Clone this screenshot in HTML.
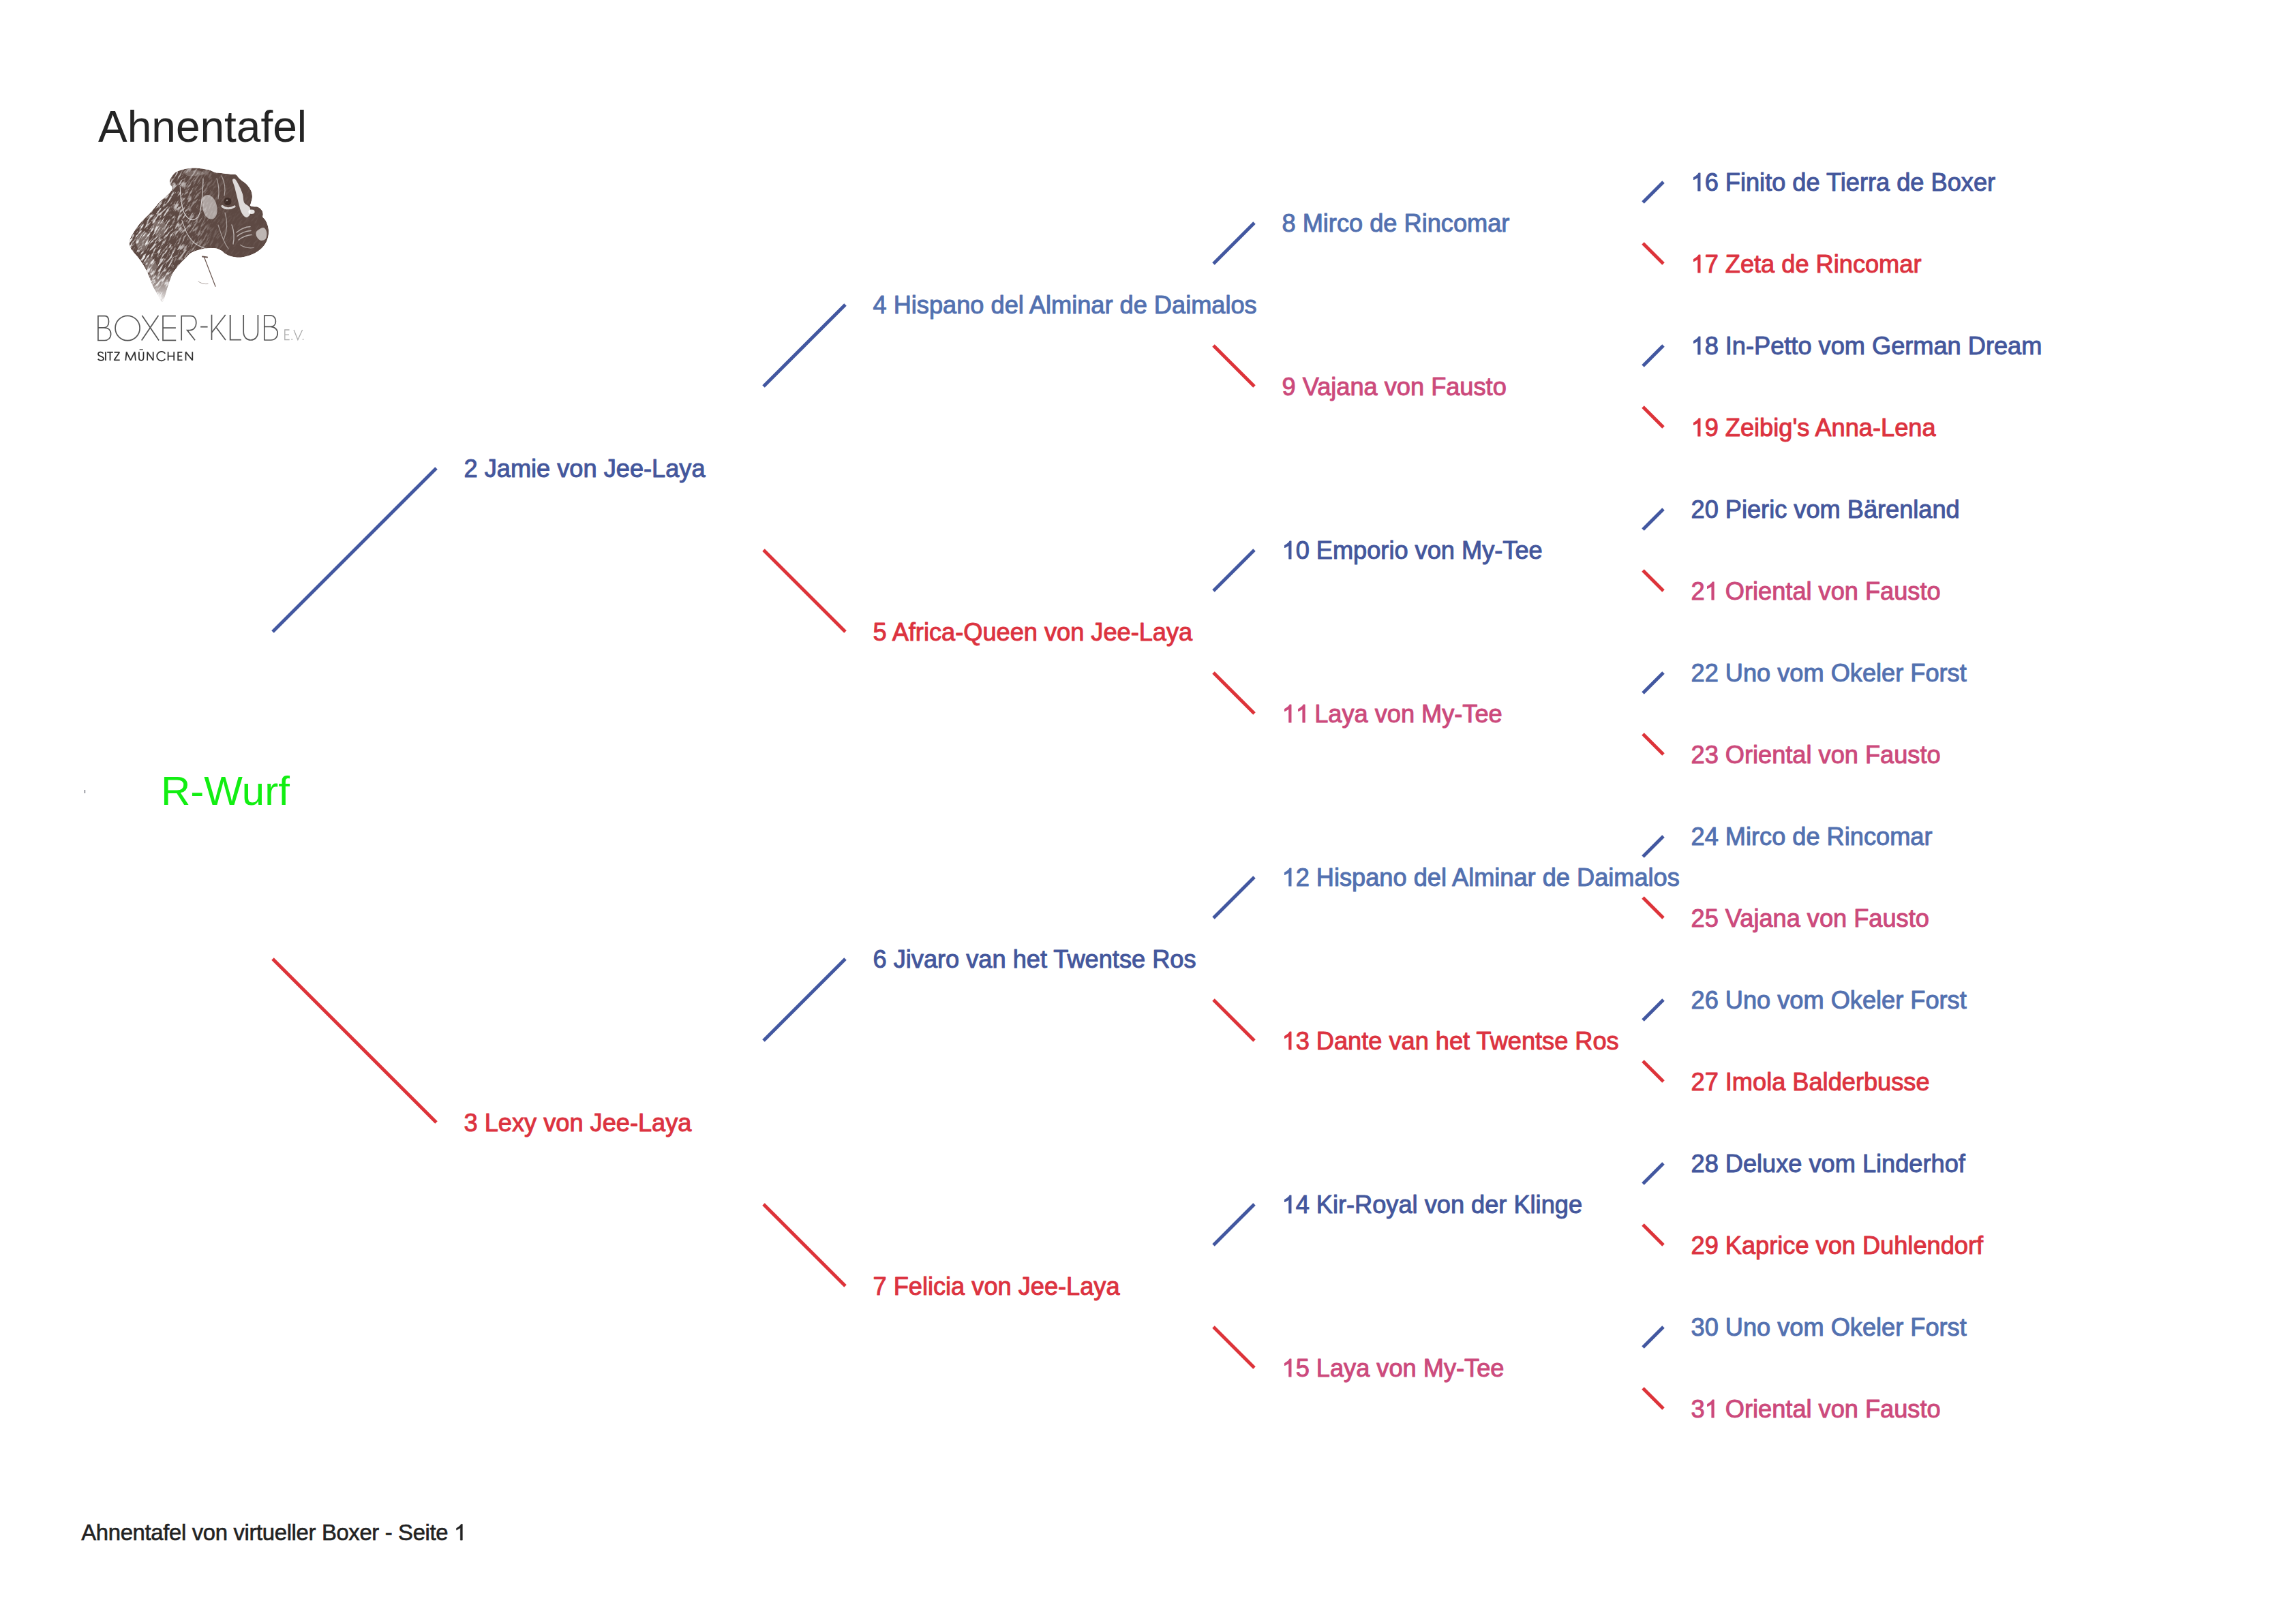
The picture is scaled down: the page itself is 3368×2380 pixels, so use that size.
<!DOCTYPE html>
<html><head><meta charset="utf-8"><style>
html,body{margin:0;padding:0;background:#fff;}
body{width:3368px;height:2380px;overflow:hidden;}
svg{display:block;}
text{font-family:"Liberation Sans",sans-serif;}
.n{stroke-width:1.0px;stroke-linejoin:round;}
.h{fill:none;stroke:none;}
</style></head><body>
<svg width="3368" height="2380" viewBox="0 0 3368 2380">
<defs><path id="one" d="M583 0V1147Q518 1085 412.5 1023Q307 961 223 930V1104Q374 1175 487 1276Q600 1377 647 1472H763V0Z" stroke-linejoin="round"/></defs>
<rect width="3368" height="2380" fill="#fff"/>
<text x="144" y="208" font-size="64" fill="#242424">Ahnentafel</text>
<g font-size="36.2" stroke-width="5.0" stroke-linecap="butt">
<text class="n" x="680.5" y="700" fill="#44579c" stroke="#44579c">2 Jamie von Jee-Laya</text>
<line x1="400.0" y1="927.0" x2="640" y2="687" stroke="#4257a0"/>
<text class="n" x="680.5" y="1660" fill="#dc3340" stroke="#dc3340">3 Lexy von Jee-Laya</text>
<line x1="400.0" y1="1407.0" x2="640" y2="1647" stroke="#dd3339"/>
<text class="n" x="1280.5" y="460" fill="#5371b0" stroke="#5371b0">4 Hispano del Alminar de Daimalos</text>
<line x1="1120.0" y1="567.0" x2="1240" y2="447" stroke="#4257a0"/>
<text class="n" x="1280.5" y="940" fill="#dc3340" stroke="#dc3340">5 Africa-Queen von Jee-Laya</text>
<line x1="1120.0" y1="807.0" x2="1240" y2="927" stroke="#dd3339"/>
<text class="n" x="1280.5" y="1420" fill="#44579c" stroke="#44579c">6 Jivaro van het Twentse Ros</text>
<line x1="1120.0" y1="1527.0" x2="1240" y2="1407" stroke="#4257a0"/>
<text class="n" x="1280.5" y="1900" fill="#dc3340" stroke="#dc3340">7 Felicia von Jee-Laya</text>
<line x1="1120.0" y1="1767.0" x2="1240" y2="1887" stroke="#dd3339"/>
<text class="n" x="1880.5" y="340" fill="#5371b0" stroke="#5371b0">8 Mirco de Rincomar</text>
<line x1="1780.0" y1="387.0" x2="1840" y2="327" stroke="#4257a0"/>
<text class="n" x="1880.5" y="580" fill="#cc4a7c" stroke="#cc4a7c">9 Vajana von Fausto</text>
<line x1="1780.0" y1="507.0" x2="1840" y2="567" stroke="#dd3339"/>
<text class="n" x="1880.5" y="820" fill="#44579c" stroke="#44579c"><tspan class="h">1</tspan>0 Emporio von My-Tee</text>
<use href="#one" fill="#44579c" stroke="#44579c" stroke-width="56.6" transform="translate(1880.50 820) scale(0.017676 -0.017676)"/>
<line x1="1780.0" y1="867.0" x2="1840" y2="807" stroke="#4257a0"/>
<text class="n" x="1880.5" y="1060" fill="#cc4a7c" stroke="#cc4a7c"><tspan class="h">1</tspan><tspan class="h">1</tspan> Laya von My-Tee</text>
<use href="#one" fill="#cc4a7c" stroke="#cc4a7c" stroke-width="56.6" transform="translate(1880.50 1060) scale(0.017676 -0.017676)"/>
<use href="#one" fill="#cc4a7c" stroke="#cc4a7c" stroke-width="56.6" transform="translate(1900.63 1060) scale(0.017676 -0.017676)"/>
<line x1="1780.0" y1="987.0" x2="1840" y2="1047" stroke="#dd3339"/>
<text class="n" x="1880.5" y="1300" fill="#5371b0" stroke="#5371b0"><tspan class="h">1</tspan>2 Hispano del Alminar de Daimalos</text>
<use href="#one" fill="#5371b0" stroke="#5371b0" stroke-width="56.6" transform="translate(1880.50 1300) scale(0.017676 -0.017676)"/>
<line x1="1780.0" y1="1347.0" x2="1840" y2="1287" stroke="#4257a0"/>
<text class="n" x="1880.5" y="1540" fill="#dc3340" stroke="#dc3340"><tspan class="h">1</tspan>3 Dante van het Twentse Ros</text>
<use href="#one" fill="#dc3340" stroke="#dc3340" stroke-width="56.6" transform="translate(1880.50 1540) scale(0.017676 -0.017676)"/>
<line x1="1780.0" y1="1467.0" x2="1840" y2="1527" stroke="#dd3339"/>
<text class="n" x="1880.5" y="1780" fill="#44579c" stroke="#44579c"><tspan class="h">1</tspan>4 Kir-Royal von der Klinge</text>
<use href="#one" fill="#44579c" stroke="#44579c" stroke-width="56.6" transform="translate(1880.50 1780) scale(0.017676 -0.017676)"/>
<line x1="1780.0" y1="1827.0" x2="1840" y2="1767" stroke="#4257a0"/>
<text class="n" x="1880.5" y="2020" fill="#cc4a7c" stroke="#cc4a7c"><tspan class="h">1</tspan>5 Laya von My-Tee</text>
<use href="#one" fill="#cc4a7c" stroke="#cc4a7c" stroke-width="56.6" transform="translate(1880.50 2020) scale(0.017676 -0.017676)"/>
<line x1="1780.0" y1="1947.0" x2="1840" y2="2007" stroke="#dd3339"/>
<text class="n" x="2480.5" y="280" fill="#44579c" stroke="#44579c"><tspan class="h">1</tspan>6 Finito de Tierra de Boxer</text>
<use href="#one" fill="#44579c" stroke="#44579c" stroke-width="56.6" transform="translate(2480.50 280) scale(0.017676 -0.017676)"/>
<line x1="2410.0" y1="297.0" x2="2440" y2="267" stroke="#4257a0"/>
<text class="n" x="2480.5" y="400" fill="#dc3340" stroke="#dc3340"><tspan class="h">1</tspan>7 Zeta de Rincomar</text>
<use href="#one" fill="#dc3340" stroke="#dc3340" stroke-width="56.6" transform="translate(2480.50 400) scale(0.017676 -0.017676)"/>
<line x1="2410.0" y1="357.0" x2="2440" y2="387" stroke="#dd3339"/>
<text class="n" x="2480.5" y="520" fill="#44579c" stroke="#44579c"><tspan class="h">1</tspan>8 In-Petto vom German Dream</text>
<use href="#one" fill="#44579c" stroke="#44579c" stroke-width="56.6" transform="translate(2480.50 520) scale(0.017676 -0.017676)"/>
<line x1="2410.0" y1="537.0" x2="2440" y2="507" stroke="#4257a0"/>
<text class="n" x="2480.5" y="640" fill="#dc3340" stroke="#dc3340"><tspan class="h">1</tspan>9 Zeibig's Anna-Lena</text>
<use href="#one" fill="#dc3340" stroke="#dc3340" stroke-width="56.6" transform="translate(2480.50 640) scale(0.017676 -0.017676)"/>
<line x1="2410.0" y1="597.0" x2="2440" y2="627" stroke="#dd3339"/>
<text class="n" x="2480.5" y="760" fill="#44579c" stroke="#44579c">20 Pieric vom B&#228;renland</text>
<line x1="2410.0" y1="777.0" x2="2440" y2="747" stroke="#4257a0"/>
<text class="n" x="2480.5" y="880" fill="#cc4a7c" stroke="#cc4a7c">2<tspan class="h">1</tspan> Oriental von Fausto</text>
<use href="#one" fill="#cc4a7c" stroke="#cc4a7c" stroke-width="56.6" transform="translate(2500.63 880) scale(0.017676 -0.017676)"/>
<line x1="2410.0" y1="837.0" x2="2440" y2="867" stroke="#dd3339"/>
<text class="n" x="2480.5" y="1000" fill="#5371b0" stroke="#5371b0">22 Uno vom Okeler Forst</text>
<line x1="2410.0" y1="1017.0" x2="2440" y2="987" stroke="#4257a0"/>
<text class="n" x="2480.5" y="1120" fill="#cc4a7c" stroke="#cc4a7c">23 Oriental von Fausto</text>
<line x1="2410.0" y1="1077.0" x2="2440" y2="1107" stroke="#dd3339"/>
<text class="n" x="2480.5" y="1240" fill="#5371b0" stroke="#5371b0">24 Mirco de Rincomar</text>
<line x1="2410.0" y1="1257.0" x2="2440" y2="1227" stroke="#4257a0"/>
<text class="n" x="2480.5" y="1360" fill="#cc4a7c" stroke="#cc4a7c">25 Vajana von Fausto</text>
<line x1="2410.0" y1="1317.0" x2="2440" y2="1347" stroke="#dd3339"/>
<text class="n" x="2480.5" y="1480" fill="#5371b0" stroke="#5371b0">26 Uno vom Okeler Forst</text>
<line x1="2410.0" y1="1497.0" x2="2440" y2="1467" stroke="#4257a0"/>
<text class="n" x="2480.5" y="1600" fill="#dc3340" stroke="#dc3340">27 Imola Balderbusse</text>
<line x1="2410.0" y1="1557.0" x2="2440" y2="1587" stroke="#dd3339"/>
<text class="n" x="2480.5" y="1720" fill="#44579c" stroke="#44579c">28 Deluxe vom Linderhof</text>
<line x1="2410.0" y1="1737.0" x2="2440" y2="1707" stroke="#4257a0"/>
<text class="n" x="2480.5" y="1840" fill="#dc3340" stroke="#dc3340">29 Kaprice von Duhlendorf</text>
<line x1="2410.0" y1="1797.0" x2="2440" y2="1827" stroke="#dd3339"/>
<text class="n" x="2480.5" y="1960" fill="#5371b0" stroke="#5371b0">30 Uno vom Okeler Forst</text>
<line x1="2410.0" y1="1977.0" x2="2440" y2="1947" stroke="#4257a0"/>
<text class="n" x="2480.5" y="2080" fill="#cc4a7c" stroke="#cc4a7c">3<tspan class="h">1</tspan> Oriental von Fausto</text>
<use href="#one" fill="#cc4a7c" stroke="#cc4a7c" stroke-width="56.6" transform="translate(2500.63 2080) scale(0.017676 -0.017676)"/>
<line x1="2410.0" y1="2037.0" x2="2440" y2="2067" stroke="#dd3339"/>
</g>
<text x="236" y="1181" font-size="60" fill="#12ee12">R-Wurf</text>
<rect x="124" y="1159" width="1.1" height="5" fill="#4a4c5a"/>
<text x="119.3" y="2260" font-size="32.8" fill="#222" stroke="#222" stroke-width="0.6" textLength="565.0">Ahnentafel von virtueller Boxer - Seite <tspan class="h">1</tspan></text>
<use href="#one" fill="#222" stroke="#222" stroke-width="37.5" transform="translate(666.05 2260) scale(0.016016 -0.016016)"/>
<g id="dog">
<defs>
<clipPath id="dogclip"><path d="M190.2 352.7C191.3 348.1 195.6 341.6 198.5 337.0C201.4 332.4 204.4 328.9 207.8 325.0C211.2 321.1 215.8 317.1 218.9 313.9C222.0 310.6 223.8 308.5 226.3 305.5C228.9 302.5 231.5 298.7 234.2 296.0C236.9 293.3 239.7 291.7 242.4 289.2C245.1 286.7 248.8 283.4 250.5 281.1C252.2 278.8 252.8 277.3 252.6 275.5C252.4 273.7 250.1 272.0 249.5 270.3C248.9 268.6 248.8 267.1 249.0 265.5C249.2 263.9 249.8 262.4 251.0 260.5C252.2 258.6 253.8 255.8 256.0 254.0C258.2 252.2 261.0 251.0 264.1 249.9C267.2 248.8 270.9 247.8 274.9 247.2C278.8 246.6 282.6 246.2 287.8 246.5C293.0 246.8 301.7 248.2 306.3 249.3C310.9 250.4 312.4 252.2 315.5 253.0C318.6 253.8 320.9 253.5 324.8 253.9C328.7 254.3 335.1 255.3 338.6 255.7C342.1 256.1 343.9 255.1 346.0 256.2C348.1 257.3 348.9 259.8 351.5 262.2C354.1 264.6 359.0 267.6 361.8 270.5C364.6 273.4 366.8 276.7 368.2 279.8C369.6 282.9 370.0 286.1 370.0 289.0C370.0 291.9 368.7 295.3 368.2 297.4C367.7 299.5 366.5 300.6 367.0 301.5C367.5 302.4 369.1 302.6 371.0 303.0C372.9 303.4 376.2 302.9 378.4 303.8C380.6 304.7 382.8 306.8 384.0 308.5C385.2 310.2 385.6 312.3 385.8 314.0C386.1 315.7 384.9 317.1 385.5 318.6C386.1 320.2 388.2 321.0 389.5 323.3C390.8 325.6 392.4 329.4 393.2 332.5C394.0 335.6 394.2 338.7 394.1 341.8C394.0 344.9 393.2 348.2 392.3 351.0C391.4 353.8 390.3 355.9 388.6 358.4C386.9 360.9 384.6 363.6 382.1 365.8C379.6 368.0 377.2 369.7 373.8 371.4C370.4 373.1 365.7 374.9 361.8 376.0C357.9 377.1 354.6 377.8 350.7 377.8C346.8 377.8 342.0 376.9 338.6 376.0C335.2 375.1 332.6 373.7 330.3 372.3C328.0 370.9 327.3 369.1 324.8 367.7C322.3 366.3 319.6 364.7 315.5 364.2C311.4 363.7 305.9 363.8 300.3 364.8C294.7 365.8 286.4 368.0 281.8 370.3C277.2 372.6 275.6 375.7 272.5 378.6C269.4 381.5 266.4 384.3 263.3 387.9C260.2 391.5 256.3 396.1 254.0 400.0C251.7 403.9 250.9 406.9 249.4 411.0C247.9 415.1 246.3 420.3 244.8 424.9C243.3 429.5 241.8 435.8 240.6 438.8C239.4 441.8 238.6 443.5 237.4 443.0C236.2 442.5 235.7 439.8 233.5 436.0C231.3 432.2 226.8 425.2 224.4 420.3C222.0 415.4 220.9 411.0 218.9 406.4C216.9 401.8 215.0 397.1 212.4 392.5C209.8 387.9 206.5 383.2 203.1 378.6C199.7 374.0 194.2 369.1 192.0 364.8C189.8 360.5 189.1 357.3 190.2 352.7Z"/></clipPath>
<filter id="tex" x="-200" y="-200" width="400" height="400" filterUnits="userSpaceOnUse" primitiveUnits="userSpaceOnUse">
<feTurbulence type="fractalNoise" baseFrequency="0.09 0.4" numOctaves="3" seed="11"/>
<feColorMatrix type="matrix" values="0 0 0 0 1 0 0 0 0 1 0 0 0 0 1 5 0 0 0 -2.4"/>
</filter>
<linearGradient id="nmg" gradientUnits="userSpaceOnUse" x1="200" y1="0" x2="340" y2="0">
<stop offset="0" stop-color="#fff" stop-opacity="1"/>
<stop offset="0.45" stop-color="#fff" stop-opacity="0.7"/>
<stop offset="0.8" stop-color="#fff" stop-opacity="0.15"/>
<stop offset="1" stop-color="#fff" stop-opacity="0.05"/>
</linearGradient>
<mask id="nmask" maskUnits="userSpaceOnUse" x="170" y="230" width="240" height="230"><rect x="170" y="230" width="240" height="230" fill="url(#nmg)"/></mask>
<linearGradient id="fade" gradientUnits="userSpaceOnUse" x1="0" y1="395" x2="0" y2="446">
<stop offset="0" stop-color="#fff" stop-opacity="0"/>
<stop offset="1" stop-color="#fff" stop-opacity="0.92"/>
</linearGradient>
</defs>
<g clip-path="url(#dogclip)">
<path fill="#5d4943" d="M190.2 352.7C191.3 348.1 195.6 341.6 198.5 337.0C201.4 332.4 204.4 328.9 207.8 325.0C211.2 321.1 215.8 317.1 218.9 313.9C222.0 310.6 223.8 308.5 226.3 305.5C228.9 302.5 231.5 298.7 234.2 296.0C236.9 293.3 239.7 291.7 242.4 289.2C245.1 286.7 248.8 283.4 250.5 281.1C252.2 278.8 252.8 277.3 252.6 275.5C252.4 273.7 250.1 272.0 249.5 270.3C248.9 268.6 248.8 267.1 249.0 265.5C249.2 263.9 249.8 262.4 251.0 260.5C252.2 258.6 253.8 255.8 256.0 254.0C258.2 252.2 261.0 251.0 264.1 249.9C267.2 248.8 270.9 247.8 274.9 247.2C278.8 246.6 282.6 246.2 287.8 246.5C293.0 246.8 301.7 248.2 306.3 249.3C310.9 250.4 312.4 252.2 315.5 253.0C318.6 253.8 320.9 253.5 324.8 253.9C328.7 254.3 335.1 255.3 338.6 255.7C342.1 256.1 343.9 255.1 346.0 256.2C348.1 257.3 348.9 259.8 351.5 262.2C354.1 264.6 359.0 267.6 361.8 270.5C364.6 273.4 366.8 276.7 368.2 279.8C369.6 282.9 370.0 286.1 370.0 289.0C370.0 291.9 368.7 295.3 368.2 297.4C367.7 299.5 366.5 300.6 367.0 301.5C367.5 302.4 369.1 302.6 371.0 303.0C372.9 303.4 376.2 302.9 378.4 303.8C380.6 304.7 382.8 306.8 384.0 308.5C385.2 310.2 385.6 312.3 385.8 314.0C386.1 315.7 384.9 317.1 385.5 318.6C386.1 320.2 388.2 321.0 389.5 323.3C390.8 325.6 392.4 329.4 393.2 332.5C394.0 335.6 394.2 338.7 394.1 341.8C394.0 344.9 393.2 348.2 392.3 351.0C391.4 353.8 390.3 355.9 388.6 358.4C386.9 360.9 384.6 363.6 382.1 365.8C379.6 368.0 377.2 369.7 373.8 371.4C370.4 373.1 365.7 374.9 361.8 376.0C357.9 377.1 354.6 377.8 350.7 377.8C346.8 377.8 342.0 376.9 338.6 376.0C335.2 375.1 332.6 373.7 330.3 372.3C328.0 370.9 327.3 369.1 324.8 367.7C322.3 366.3 319.6 364.7 315.5 364.2C311.4 363.7 305.9 363.8 300.3 364.8C294.7 365.8 286.4 368.0 281.8 370.3C277.2 372.6 275.6 375.7 272.5 378.6C269.4 381.5 266.4 384.3 263.3 387.9C260.2 391.5 256.3 396.1 254.0 400.0C251.7 403.9 250.9 406.9 249.4 411.0C247.9 415.1 246.3 420.3 244.8 424.9C243.3 429.5 241.8 435.8 240.6 438.8C239.4 441.8 238.6 443.5 237.4 443.0C236.2 442.5 235.7 439.8 233.5 436.0C231.3 432.2 226.8 425.2 224.4 420.3C222.0 415.4 220.9 411.0 218.9 406.4C216.9 401.8 215.0 397.1 212.4 392.5C209.8 387.9 206.5 383.2 203.1 378.6C199.7 374.0 194.2 369.1 192.0 364.8C189.8 360.5 189.1 357.3 190.2 352.7Z"/>
<g fill="#fff">
<path opacity="0.8" d="M341.0 264.0C341.2 262.2 343.3 261.5 345.0 263.0C346.7 264.5 349.2 269.3 351.0 273.0C352.8 276.7 354.8 281.0 356.0 285.0C357.2 289.0 356.7 294.2 358.0 297.0C359.3 299.8 362.5 300.5 364.0 302.0C365.5 303.5 366.5 304.0 367.0 306.0C367.5 308.0 367.8 311.8 367.0 314.0C366.2 316.2 363.7 318.7 362.0 319.0C360.3 319.3 358.5 317.7 357.0 316.0C355.5 314.3 354.2 312.0 353.0 309.0C351.8 306.0 351.0 301.8 350.0 298.0C349.0 294.2 348.0 290.0 347.0 286.0C346.0 282.0 345.0 277.7 344.0 274.0C343.0 270.3 340.8 265.8 341.0 264.0Z"/>
<path opacity="0.5" d="M298.0 289.0C299.5 286.7 303.3 285.5 306.0 286.0C308.7 286.5 312.0 289.3 314.0 292.0C316.0 294.7 317.3 298.3 318.0 302.0C318.7 305.7 318.8 310.8 318.0 314.0C317.2 317.2 315.2 320.0 313.0 321.0C310.8 322.0 307.3 321.5 305.0 320.0C302.7 318.5 300.3 315.3 299.0 312.0C297.7 308.7 297.2 303.8 297.0 300.0C296.8 296.2 296.5 291.3 298.0 289.0Z"/>
<path opacity="0.6" d="M376.0 340.0C377.5 337.7 383.5 334.0 386.0 334.0C388.5 334.0 390.3 337.3 391.0 340.0C391.7 342.7 391.3 347.8 390.0 350.0C388.7 352.2 385.2 353.3 383.0 353.0C380.8 352.7 378.2 350.2 377.0 348.0C375.8 345.8 374.5 342.3 376.0 340.0Z"/>
<path opacity="0.22" d="M200.0 350.0C201.5 346.3 207.0 340.8 210.0 340.0C213.0 339.2 217.0 341.7 218.0 345.0C219.0 348.3 217.7 356.2 216.0 360.0C214.3 363.8 210.5 367.7 208.0 368.0C205.5 368.3 202.3 365.0 201.0 362.0C199.7 359.0 198.5 353.7 200.0 350.0Z"/>
<path opacity="0.2" d="M225.0 330.0C225.8 325.7 232.0 322.0 235.0 322.0C238.0 322.0 242.2 326.2 243.0 330.0C243.8 333.8 242.2 342.0 240.0 345.0C237.8 348.0 232.5 350.5 230.0 348.0C227.5 345.5 224.2 334.3 225.0 330.0Z"/>
<path opacity="0.22" d="M212.0 385.0C212.7 381.3 219.0 377.2 222.0 378.0C225.0 378.8 229.3 386.0 230.0 390.0C230.7 394.0 228.0 400.3 226.0 402.0C224.0 403.7 220.3 402.8 218.0 400.0C215.7 397.2 211.3 388.7 212.0 385.0Z"/>
<path opacity="0.2" d="M272.0 252.0C274.5 250.7 285.3 249.5 290.0 250.0C294.7 250.5 300.3 253.7 300.0 255.0C299.7 256.3 292.2 257.5 288.0 258.0C283.8 258.5 277.7 259.0 275.0 258.0C272.3 257.0 269.5 253.3 272.0 252.0Z"/>
<ellipse opacity="0.85" cx="369" cy="310.8" rx="4.6" ry="3.2"/>
</g>
<circle cx="334" cy="295.5" r="5.6" fill="#3e2c27"/><circle cx="333" cy="294" r="1.2" fill="#fff" opacity="0.5"/>
<g fill="none" stroke="#fff" stroke-linecap="round">
<path opacity="0.75" stroke-width="3.2" d="M326 302.5C330 306.5 338 307 344 303"/>
<path opacity="0.75" stroke-width="1.1" d="M264.3 274.3C264.5 277.2 264.5 285.9 265.4 292.0C266.3 298.1 267.5 306.1 269.5 311.0C271.5 315.9 274.9 319.3 277.6 321.1C280.3 322.9 283.3 323.0 285.8 321.8C288.3 320.6 291.0 317.6 292.6 313.7C294.2 309.8 294.5 304.3 295.3 298.7C296.1 293.1 296.9 285.9 297.3 279.8C297.8 273.7 297.9 265.1 298.0 262.1"/>
<path opacity="0.65" stroke-width="1.2" d="M266.8 323.1C268.1 326.5 271.7 337.9 274.9 343.5C278.1 349.1 281.3 353.4 285.8 357.0C290.3 360.6 299.3 363.8 302.0 365.2"/>
<path opacity="0.55" stroke-width="1.4" d="M347 341C353 336 360 333 367 332.5M348 346.5C354 341.5 361 339 368 338.5M350 352C356 347.5 362 345 369 344.5M340 330C343 338 344 348 342 358"/>
<path opacity="0.5" stroke-width="1.2" d="M352.5 359.3C358 363 365 364.5 372 363.5"/>
<path opacity="0.5" stroke-width="1.2" d="M318 262C321 272 322 282 320 292M325 258C330 268 331 278 329 287"/>
<path opacity="0.45" stroke-width="1.2" d="M330 312C334 325 333 340 328 352M320 330C325 345 328 355 335 365"/>
</g>
<g mask="url(#nmask)"><g transform="translate(290 345) rotate(-55)"><rect x="-200" y="-200" width="400" height="400" fill="#fff" filter="url(#tex)" opacity="0.9"/></g></g>
<rect x="170" y="390" width="240" height="60" fill="url(#fade)"/>
</g>
<g fill="none" stroke="#6a5650" stroke-linecap="round">
<path stroke-width="1.2" d="M299.3 376.8L316 420.3"/>
<path stroke-width="2" d="M297 376.5L304 377.5"/>
<path stroke-width="0.9" opacity="0.6" d="M291 413C295 416 300 417 305 416.5"/>
</g>
</g>
<g id="logo">
<g fill="none" stroke="#565656" stroke-width="1.7" stroke-linejoin="miter">
<path d="M143.9 462.8V500.3M143.9 463.6H154C158 463.6 159.5 467 159.5 472C159.5 477 157 480.8 152.5 480.8H143.9M152.5 480.8C159 480.8 162.6 484.5 162.6 490C162.6 496 158.5 499.5 153.5 499.5H143.9"/>
<ellipse cx="187.1" cy="481.5" rx="18" ry="18.2"/>
<path d="M208.4 463L233.1 499.6M232.4 463L207.7 499.6"/>
<path d="M257.9 463.6H239V499.3H258.2M239 481.1H257.9"/>
<path d="M266.2 499.6V463.6H280C285 463.6 287.8 468 287.8 474C287.8 480 284 484.6 278.5 484.6H274.6L286.1 499.3"/>
<path d="M294.1 479.6H304.6" stroke-width="1.9"/>
<path d="M310.5 461.8V499M330.7 462L310.8 487.8M317.4 480.8L331 499"/>
<path d="M337.7 462V498.6H353.8" stroke-width="1.9"/>
<path d="M357.2 462V487C357.2 494.5 362 499 367.8 499C373.6 499 378.4 494.5 378.4 487V462"/>
<path d="M387.8 462.3V499.6M387.8 463.2H398C402 463.2 404.4 467 404.4 471.5C404.4 476 401.5 479.3 397 479.3H387.8M397 479.3C403 479.3 407.2 483.5 407.2 489C407.2 495 403 499 397.5 499H387.8"/>
</g>
<g fill="none" stroke="#ababab" stroke-width="1.3">
<path d="M424.5 484H417.8V498.5H424.7M417.8 491.2H424"/>
<path d="M431 484L436.9 498.5L443.6 484"/>
</g>
<circle cx="428.2" cy="498" r="0.9" fill="#aaa"/>
<circle cx="444.6" cy="497.9" r="0.9" fill="#aaa"/>
<g fill="none" stroke="#303030" stroke-width="1.75" stroke-linejoin="miter" stroke-miterlimit="1.5">
<path d="M151.5 518.6C150.5 517 149 516.5 147.6 516.5C145.1 516.5 144 518 144 519.6C144 521.5 145.6 522.2 147.8 522.8C150.5 523.5 152 524.6 152 526.3C152 528 150.5 528.9 148.1 528.9C146.1 528.9 144.6 528 143.8 526.7"/>
<path d="M154.9 516.3V529"/>
<path d="M157.2 516.9H165.8M161.5 516.9V529"/>
<path d="M167.6 516.9H175.2L167.4 528.4H175.7"/>
<path d="M184.3 529L185.6 516.4L191.5 528.6L197.6 516.4L198.9 529"/>
<path d="M203.9 516.3V524.8C203.9 527.5 205.3 528.8 207.2 528.8C209.1 528.8 210.5 527.5 210.5 524.8V516.3"/>
<path d="M204.6 512.9H209.8" stroke-width="1.2"/>
<path d="M216.2 529V516.4L224.7 528.7V516.3"/>
<path d="M242.3 518.7A6.7 6.7 0 1 0 242.3 526.6"/>
<path d="M246.6 516.3V529M255.2 516.3V529M246.6 522.7H255.2"/>
<path d="M267.3 516.9H261.2V528.3H267.5M261.2 522.6H266.8"/>
<path d="M272.5 529V516.4L282.3 528.7V516.3"/>
</g>
</g>

</svg>
</body></html>
